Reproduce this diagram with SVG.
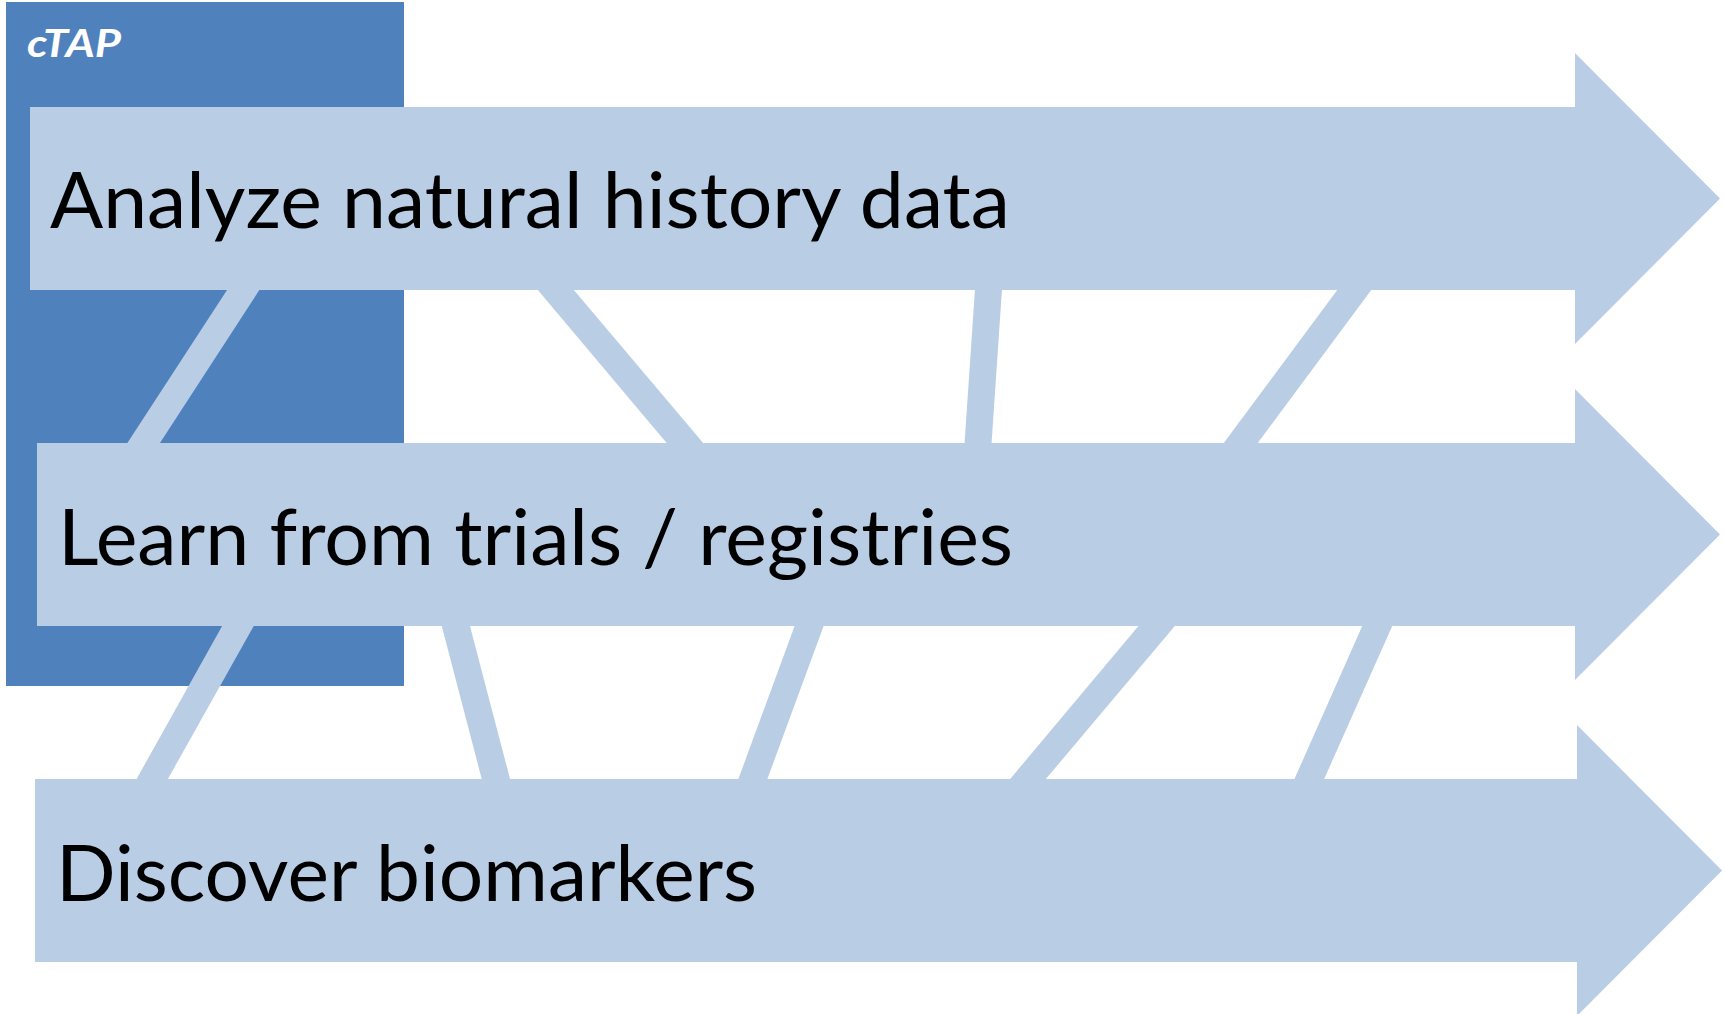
<svg xmlns="http://www.w3.org/2000/svg" width="1725" height="1014" viewBox="0 0 1725 1014">
<style>
.arrow{fill:#B9CDE5}
.band{fill:#B9CDE5}
.lbl{font-family:Lato,"Open Sans","Liberation Sans",sans-serif;font-size:77px;fill:#000}
.title{font-family:Lato,"Open Sans","Liberation Sans",sans-serif;font-size:38px;font-weight:bold;font-style:italic;fill:#fff}
</style>
<rect width="1725" height="1014" fill="#fff"/>
<g id="ctap">
<rect x="6" y="2" width="398" height="684" fill="#4F81BD"/>
<text class="title" x="27" y="57" textLength="94" lengthAdjust="spacingAndGlyphs">cTAP</text>
</g>
<g id="connectors">
<polygon class="band" points="227.7,289 260,289 159.3,444 126.7,444"/>
<polygon class="band" points="537,289 573,289 704,444 667.5,444"/>
<polygon class="band" points="975,289 1002,289 991.5,444 964.5,444"/>
<polygon class="band" points="1338,289 1372,289 1257,444 1223,444"/>
<polygon class="band" points="222.7,625 254.3,625 167.3,780 136,780"/>
<polygon class="band" points="441.5,625 469.7,625 510.3,780 482,780"/>
<polygon class="band" points="795,625 824,625 767,780 738,780"/>
<polygon class="band" points="1139.3,625 1175.7,625 1045,780 1009.3,780"/>
<polygon class="band" points="1362.7,625 1392.7,625 1323.7,780 1294,780"/>
</g>
<g id="analyze">
<path class="arrow" d="M30,107 H1575 V53 L1720,198.5 L1575,344 V290 H30 Z"/>
<text class="lbl" x="50" y="228" textLength="960" lengthAdjust="spacingAndGlyphs">Analyze natural history data</text>
</g>
<g id="learn">
<path class="arrow" d="M37,443 H1575 V389 L1720,534.5 L1575,680 V626 H37 Z"/>
<text class="lbl" x="58" y="565" textLength="955" lengthAdjust="spacingAndGlyphs">Learn from trials / registries</text>
</g>
<g id="discover">
<path class="arrow" d="M35,779 H1577 V725 L1722,870.5 L1577,1016 V962 H35 Z"/>
<text class="lbl" x="56" y="901" textLength="701" lengthAdjust="spacingAndGlyphs">Discover biomarkers</text>
</g>
</svg>
